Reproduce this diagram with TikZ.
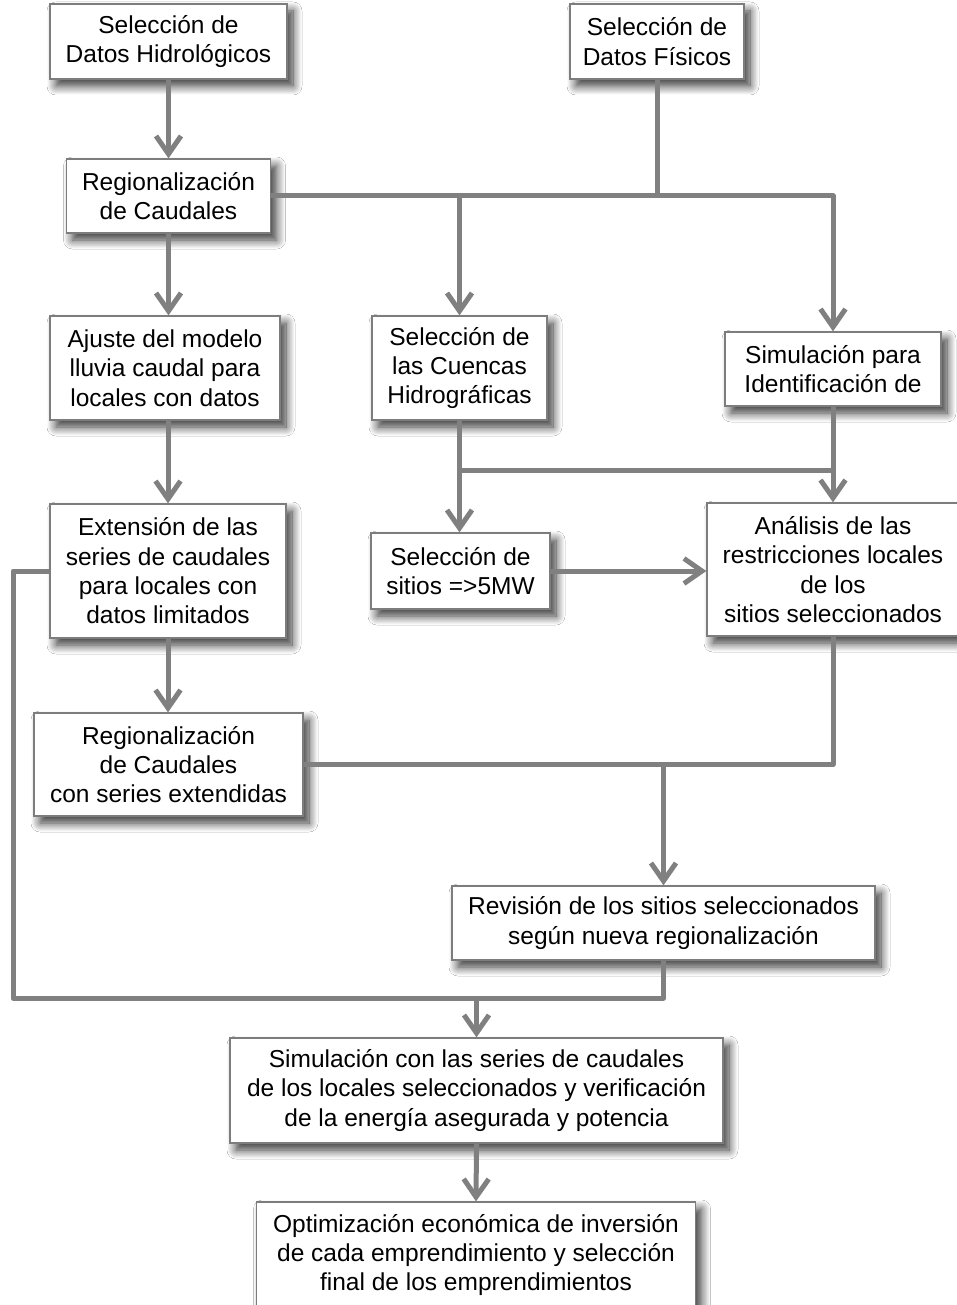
\documentclass[tikz,border=0pt]{standalone}
\usepackage{fontspec}
\setmainfont{Liberation Sans}
\usetikzlibrary{arrows.meta,shadows.blur,calc}
\definecolor{linegray}{RGB}{128,128,128}
\definecolor{boxgray}{RGB}{125,125,125}
\begin{document}
\begin{tikzpicture}[x=1pt,y=-1pt,
  box/.style={draw=boxgray, line width=1.3pt, fill=white, align=center, inner sep=0pt,
    font=\fontsize{24.5}{29.3}\selectfont,
    blur shadow={shadow xshift=6pt, shadow yshift=-7pt, shadow blur radius=9pt, shadow blur steps=12, shadow opacity=80}},
  conn/.style={draw=linegray, line width=5pt, line join=round},
  arrow/.style={conn, -{Straight Barb[length=18pt,width=25pt]}}]
\fill[white] (0,0) rectangle (957,1305);
\useasboundingbox (0,0) rectangle (957,1305);

\node[box, minimum width=237pt, minimum height=75pt] (b1) at (168.5,41.5) {Selección de\\Datos Hidrológicos};
\node[box, minimum width=174pt, minimum height=75pt] (b2) at (657,41.5) {Selección de\\Datos Físicos};
\node[box, minimum width=204pt, minimum height=74pt] (b3) at (168.5,196) {Regionalización\\de Caudales};
\node[box, minimum width=230pt, minimum height=104pt] (b4) at (165,368) {Ajuste del modelo\\lluvia caudal para\\locales con datos};
\node[box, minimum width=175pt, minimum height=104pt] (b5) at (459.5,368) {Selección de\\las Cuencas\\Hidrográficas};
\node[box, minimum width=216pt, minimum height=74pt] (b6) at (833,369) {Simulación para\\Identificación de};
\node[box, minimum width=236pt, minimum height=134pt] (b7) at (168,571) {Extensión de las\\series de caudales\\para locales con\\datos limitados};
\node[box, minimum width=179pt, minimum height=76pt] (b8) at (460.5,571) {Selección de\\sitios =>5MW};
\node[box, minimum width=252pt, minimum height=133pt] (b9) at (833,569.5) {Análisis de las\\restricciones locales\\de los\\sitios seleccionados};
\node[box, minimum width=269pt, minimum height=103pt] (b10) at (168.5,764.5) {Regionalización\\de Caudales\\con series extendidas};
\node[box, minimum width=423pt, minimum height=74pt] (b11) at (663.5,923) {Revisión de los sitios seleccionados\\según nueva regionalización};
\node[box, minimum width=493pt, minimum height=105pt] (b12) at (476.5,1090.5) {Simulación con las series de caudales\\de los locales seleccionados y verificación\\de la energía asegurada y potencia};
\node[box, minimum width=439pt, minimum height=106pt] (b13) at (476,1255) {Optimización económica de inversión\\de cada emprendimiento y selección\\final de los emprendimientos};

\coordinate (lp) at (13,998);

% connectors
\draw[arrow] (b1.south) -- (b1.south |- b3.north);
\draw[conn] (b2.south) -- (b2.south |- b3.east);
\draw[arrow] (b3.east) -| (b6.north);
\draw[arrow] (b3.east -| b5.north) -- (b5.north);
\draw[arrow] (b3.south) -- (b3.south |- b4.north);
\draw[arrow] (b7.north |- b4.south) -- (b7.north);
\draw[conn] (b6.south) -- ($(b6.south)+(0,64)$) -- ($(b5.south)+(0,50)$);
\draw[arrow] (b5.south) -- (b5.south |- b8.north);
\draw[arrow] ($(b6.south)+(0,64)$) -- (b6.south |- b9.north);
\draw[arrow] (b8.east) -- (b8.east -| b9.west);
\draw[arrow] (b7.south) -- (b7.south |- b10.north);
\draw[conn] (b9.south) |- (b10.east);
\draw[arrow] (b10.east -| b11.north) -- (b11.north);
\draw[conn] (b7.west) -| (lp) -| (b11.south);
\draw[arrow] (lp -| b12.north) -- (b12.north);
\draw[arrow] (b12.south) -- (b13.north);
\end{tikzpicture}
\end{document}
